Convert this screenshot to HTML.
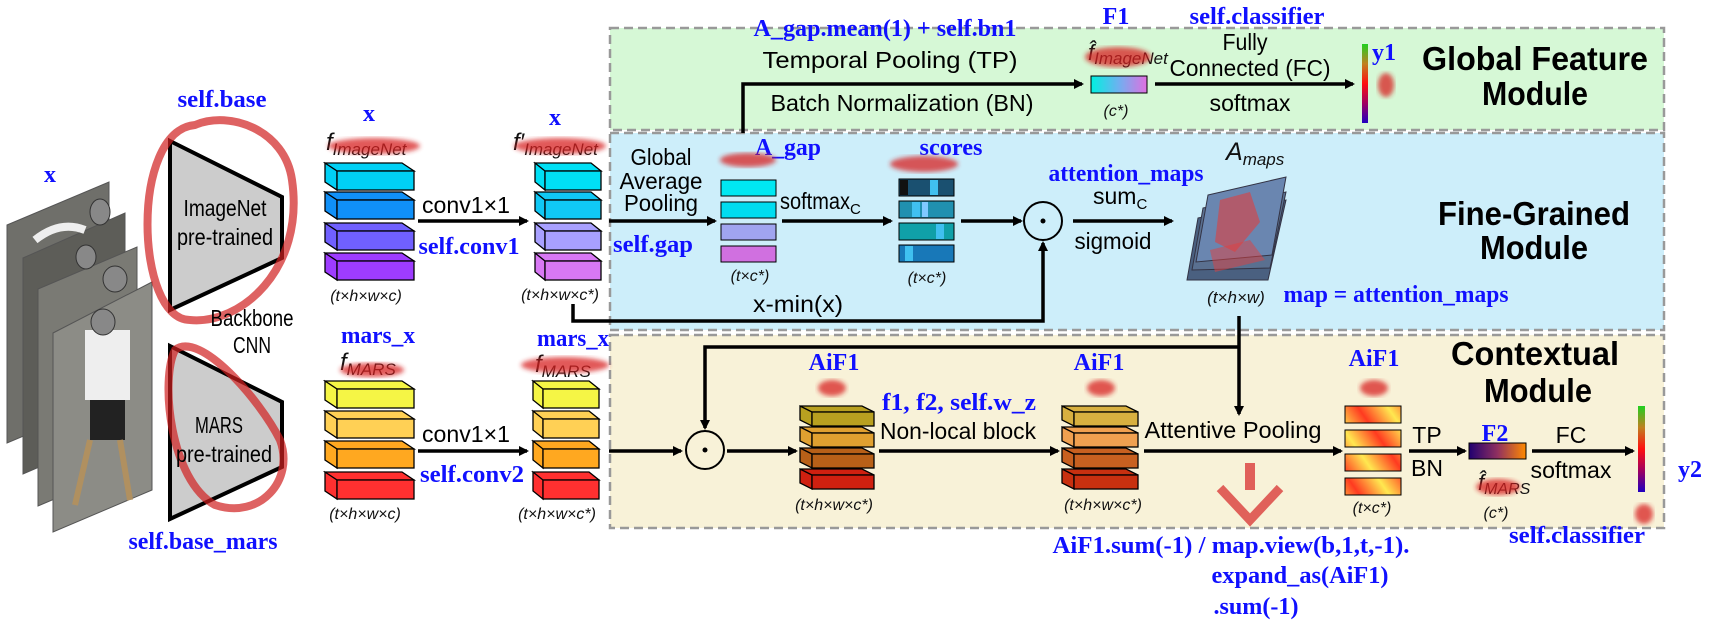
<!DOCTYPE html>
<html><head><meta charset="utf-8"><style>
html,body{margin:0;padding:0;background:#fff;}
svg{display:block;}
.b{font-family:"Liberation Serif",serif;font-weight:bold;fill:#1010ff;font-size:24px;}
.s{font-family:"Liberation Sans",sans-serif;fill:#000;font-size:23px;}
.i{font-family:"Liberation Sans",sans-serif;font-style:italic;fill:#111;}
.t{font-family:"Liberation Sans",sans-serif;font-weight:bold;fill:#000;font-size:33px;}
.blob{fill:#d82020;opacity:.75;filter:url(#bl);}
.k{stroke:#000;stroke-width:1.3;}
</style></head><body>
<svg width="1717" height="631" viewBox="0 0 1717 631" xmlns="http://www.w3.org/2000/svg">
<defs>
<filter id="bl"><feGaussianBlur stdDeviation="2.5"/></filter>
<marker id="ah" markerWidth="10" markerHeight="10" refX="8" refY="5" orient="auto" markerUnits="userSpaceOnUse" viewBox="0 0 10 10"><path d="M0,0L10,5L0,10Z" fill="#000"/></marker>
<linearGradient id="g1" x1="0" x2="1"><stop offset="0" stop-color="#00f0e0"/><stop offset=".5" stop-color="#70b0f0"/><stop offset="1" stop-color="#e070e0"/></linearGradient>
<linearGradient id="g2" x1="0" x2="1"><stop offset="0" stop-color="#200070"/><stop offset=".5" stop-color="#903060"/><stop offset="1" stop-color="#ff8a00"/></linearGradient>
<linearGradient id="cb" x1="0" y1="0" x2="0" y2="1"><stop offset="0" stop-color="#20d020"/><stop offset=".25" stop-color="#c08020"/><stop offset=".5" stop-color="#ff1010"/><stop offset=".75" stop-color="#a00060"/><stop offset="1" stop-color="#2000c0"/></linearGradient>
<linearGradient id="str" x1="0" y1="0" x2="20" y2="-14" gradientUnits="userSpaceOnUse" spreadMethod="reflect"><stop offset="0" stop-color="#ff3a20"/><stop offset="1" stop-color="#ffe850"/></linearGradient>
</defs>

<rect x="610" y="28" width="1054" height="102" fill="#d6f8d6" stroke="#999" stroke-width="2.5" stroke-dasharray="9,5"/>
<rect x="610" y="133" width="1054" height="197" fill="#cdeefa" stroke="#999" stroke-width="2.5" stroke-dasharray="9,5"/>
<rect x="610" y="335" width="1054" height="193" fill="#f8f2d8" stroke="#999" stroke-width="2.5" stroke-dasharray="9,5"/>

<g stroke="#555" stroke-width="1">
<polygon points="7,225 109,182 109,400 7,443" fill="#6f6f6a"/>
<polygon points="23,258 125,213 125,430 23,474" fill="#5d5d58"/>
<polygon points="38,289 137,247 137,464 38,506" fill="#7a7a74"/>
<polygon points="53,333 152,282 152,490 53,532" fill="#8c8c86"/>
</g>
<rect x="85" y="330" width="45" height="70" fill="#eee"/>
<rect x="90" y="400" width="35" height="40" fill="#222"/>
<path d="M90,440 L75,505 M120,440 L130,500" stroke="#b09060" stroke-width="6"/>
<ellipse cx="103" cy="322" rx="12" ry="13" fill="#888" stroke="#333"/>
<ellipse cx="115" cy="279" rx="12" ry="13" fill="#888" stroke="#333"/>
<ellipse cx="86" cy="257" rx="10" ry="12" fill="#888" stroke="#333"/>
<ellipse cx="100" cy="212" rx="10" ry="13" fill="#888" stroke="#333"/>
<path d="M35,240 q25,-20 50,-10" stroke="#eee" stroke-width="8" fill="none"/>

<polygon points="170,141 282,197 282,258 170,310" fill="#ccc" stroke="#000" stroke-width="4"/>
<polygon points="170,346 282,402 282,467 170,519" fill="#ccc" stroke="#000" stroke-width="4"/>
<path d="M195,125 C130,130 135,320 190,320 C240,325 305,270 292,180 C285,130 230,110 195,125Z" fill="none" stroke="#d02020" stroke-width="8" opacity=".7"/>
<path d="M175,350 C160,380 170,480 215,505 C260,520 295,480 280,440 C260,400 200,330 175,350Z" fill="none" stroke="#d02020" stroke-width="8" opacity=".7"/>
<text class="s" x="225" y="216" text-anchor="middle" textLength="83" lengthAdjust="spacingAndGlyphs">ImageNet</text>
<text class="s" x="225" y="245" text-anchor="middle" textLength="96" lengthAdjust="spacingAndGlyphs">pre-trained</text>
<text class="s" x="252" y="326" text-anchor="middle" textLength="83" lengthAdjust="spacingAndGlyphs">Backbone</text>
<text class="s" x="252" y="353" text-anchor="middle" textLength="38" lengthAdjust="spacingAndGlyphs">CNN</text>
<text class="s" x="219" y="433" text-anchor="middle" textLength="48" lengthAdjust="spacingAndGlyphs">MARS</text>
<text class="s" x="224" y="462" text-anchor="middle" textLength="96" lengthAdjust="spacingAndGlyphs">pre-trained</text>

<text class="b" x="50" y="182" font-family="Liberation Sans" text-anchor="middle">x</text>
<text class="b" x="222" y="107" text-anchor="middle" textLength="89" lengthAdjust="spacingAndGlyphs">self.base</text>
<text class="b" x="203" y="549" text-anchor="middle" textLength="149" lengthAdjust="spacingAndGlyphs">self.base_mars</text>

<g class="k">
<g transform="translate(325,163)" fill="#00d0f5"><path d="M0,0H77L89,8H12Z M0,0L12,8V27L0,19Z"/><rect x="12" y="8" width="77" height="19"/></g>
<g transform="translate(325,192)" fill="#1090f8"><path d="M0,0H77L89,8H12Z M0,0L12,8V27L0,19Z"/><rect x="12" y="8" width="77" height="19"/></g>
<g transform="translate(325,223)" fill="#7060ff"><path d="M0,0H77L89,8H12Z M0,0L12,8V27L0,19Z"/><rect x="12" y="8" width="77" height="19"/></g>
<g transform="translate(325,253)" fill="#9e3cff"><path d="M0,0H77L89,8H12Z M0,0L12,8V27L0,19Z"/><rect x="12" y="8" width="77" height="19"/></g>
<g transform="translate(535,163)" fill="#00e0f5"><path d="M0,0H56L66,8H10Z M0,0L10,8V27L0,19Z"/><rect x="10" y="8" width="56" height="19"/></g>
<g transform="translate(535,192)" fill="#10c8f5"><path d="M0,0H56L66,8H10Z M0,0L10,8V27L0,19Z"/><rect x="10" y="8" width="56" height="19"/></g>
<g transform="translate(535,223)" fill="#a8a0ff"><path d="M0,0H56L66,8H10Z M0,0L10,8V27L0,19Z"/><rect x="10" y="8" width="56" height="19"/></g>
<g transform="translate(535,253)" fill="#d878f4"><path d="M0,0H56L66,8H10Z M0,0L10,8V27L0,19Z"/><rect x="10" y="8" width="56" height="19"/></g>
<g transform="translate(325,381)" fill="#f5f545"><path d="M0,0H77L89,8H12Z M0,0L12,8V27L0,19Z"/><rect x="12" y="8" width="77" height="19"/></g>
<g transform="translate(325,411)" fill="#ffd055"><path d="M0,0H77L89,8H12Z M0,0L12,8V27L0,19Z"/><rect x="12" y="8" width="77" height="19"/></g>
<g transform="translate(325,441)" fill="#ffa820"><path d="M0,0H77L89,8H12Z M0,0L12,8V27L0,19Z"/><rect x="12" y="8" width="77" height="19"/></g>
<g transform="translate(325,472)" fill="#ff3030"><path d="M0,0H77L89,8H12Z M0,0L12,8V27L0,19Z"/><rect x="12" y="8" width="77" height="19"/></g>
<g transform="translate(533,381)" fill="#f5f545"><path d="M0,0H56L66,8H10Z M0,0L10,8V27L0,19Z"/><rect x="10" y="8" width="56" height="19"/></g>
<g transform="translate(533,411)" fill="#ffd055"><path d="M0,0H56L66,8H10Z M0,0L10,8V27L0,19Z"/><rect x="10" y="8" width="56" height="19"/></g>
<g transform="translate(533,441)" fill="#ffa820"><path d="M0,0H56L66,8H10Z M0,0L10,8V27L0,19Z"/><rect x="10" y="8" width="56" height="19"/></g>
<g transform="translate(533,472)" fill="#ff3030"><path d="M0,0H56L66,8H10Z M0,0L10,8V27L0,19Z"/><rect x="10" y="8" width="56" height="19"/></g>
<g transform="translate(800,406)" fill="#b8a020"><path d="M0,0H62L74,6H12Z M0,0L12,6V20L0,14Z"/><rect x="12" y="6" width="62" height="14"/></g>
<g transform="translate(800,427)" fill="#e0a030"><path d="M0,0H62L74,6H12Z M0,0L12,6V20L0,14Z"/><rect x="12" y="6" width="62" height="14"/></g>
<g transform="translate(800,448)" fill="#b86018"><path d="M0,0H62L74,6H12Z M0,0L12,6V20L0,14Z"/><rect x="12" y="6" width="62" height="14"/></g>
<g transform="translate(800,469)" fill="#d02010"><path d="M0,0H62L74,6H12Z M0,0L12,6V20L0,14Z"/><rect x="12" y="6" width="62" height="14"/></g>
<g transform="translate(1062,406)" fill="#d8b040"><path d="M0,0H64L76,6H12Z M0,0L12,6V20L0,14Z"/><rect x="12" y="6" width="64" height="14"/></g>
<g transform="translate(1062,427)" fill="#f0a050"><path d="M0,0H64L76,6H12Z M0,0L12,6V20L0,14Z"/><rect x="12" y="6" width="64" height="14"/></g>
<g transform="translate(1062,448)" fill="#c86020"><path d="M0,0H64L76,6H12Z M0,0L12,6V20L0,14Z"/><rect x="12" y="6" width="64" height="14"/></g>
<g transform="translate(1062,469)" fill="#c83010"><path d="M0,0H64L76,6H12Z M0,0L12,6V20L0,14Z"/><rect x="12" y="6" width="64" height="14"/></g>
</g>

<text class="b" x="369" y="121" font-family="Liberation Sans" text-anchor="middle">x</text>
<text class="b" x="555" y="125" font-family="Liberation Sans" text-anchor="middle">x</text>
<text class="i" x="326" y="150" font-size="24">f<tspan font-size="17" dy="5">ImageNet</tspan></text>
<text class="i" x="513" y="150" font-size="24">f′<tspan font-size="17" dy="5">ImageNet</tspan></text>
<ellipse class="blob" cx="374" cy="146" rx="46" ry="8"/>
<ellipse class="blob" cx="560" cy="146" rx="46" ry="8"/>
<text class="b" x="378" y="343" text-anchor="middle" textLength="74" lengthAdjust="spacingAndGlyphs">mars_x</text>
<text class="b" x="573" y="346" text-anchor="middle" textLength="72" lengthAdjust="spacingAndGlyphs">mars_x</text>
<text class="i" x="340" y="370" font-size="24">f<tspan font-size="17" dy="5">MARS</tspan></text>
<text class="i" x="535" y="372" font-size="24">f<tspan font-size="17" dy="5">MARS</tspan></text>
<ellipse class="blob" cx="372" cy="370" rx="32" ry="7"/>
<ellipse class="blob" cx="565" cy="365" rx="44" ry="8"/>
<text class="i" x="366" y="301" text-anchor="middle">(t×h×w×c)</text>
<text class="i" x="560" y="300" text-anchor="middle">(t×h×w×c*)</text>
<text class="i" x="365" y="519" text-anchor="middle">(t×h×w×c)</text>
<text class="i" x="557" y="519" text-anchor="middle">(t×h×w×c*)</text>

<g stroke="#000" stroke-width="3.5" fill="none">
<line x1="418" y1="221" x2="527" y2="221" marker-end="url(#ah)"/>
<line x1="418" y1="451" x2="527" y2="451" marker-end="url(#ah)"/>
<line x1="609" y1="221" x2="715" y2="221" marker-end="url(#ah)"/>
<line x1="782" y1="221" x2="891" y2="221" marker-end="url(#ah)"/>
<line x1="961" y1="221" x2="1021" y2="221" marker-end="url(#ah)"/>
<line x1="1073" y1="221" x2="1172" y2="221" marker-end="url(#ah)"/>
<polyline points="573,304 573,321 1043,321 1043,243" marker-end="url(#ah)"/>
<polyline points="743,133 743,84 1082,84" marker-end="url(#ah)"/>
<line x1="1155" y1="84" x2="1353" y2="84" marker-end="url(#ah)"/>
<line x1="1239" y1="316" x2="1239" y2="414" marker-end="url(#ah)"/>
<polyline points="1239,347 705,347 705,428" marker-end="url(#ah)"/>
<line x1="609" y1="451" x2="681" y2="451" marker-end="url(#ah)"/>
<line x1="727" y1="451" x2="796" y2="451" marker-end="url(#ah)"/>
<line x1="879" y1="451" x2="1058" y2="451" marker-end="url(#ah)"/>
<line x1="1144" y1="451" x2="1341" y2="451" marker-end="url(#ah)"/>
<line x1="1409" y1="451" x2="1465" y2="451" marker-end="url(#ah)"/>
<line x1="1532" y1="451" x2="1633" y2="451" marker-end="url(#ah)"/>
</g>
<circle cx="1043" cy="221" r="19" fill="none" stroke="#000" stroke-width="2"/><circle cx="1043" cy="221" r="2.5"/>
<circle cx="705" cy="450" r="19" fill="none" stroke="#000" stroke-width="2"/><circle cx="705" cy="450" r="2.5"/>

<text class="s" x="466" y="213" text-anchor="middle" textLength="88" lengthAdjust="spacingAndGlyphs">conv1×1</text>
<text class="s" x="466" y="442" text-anchor="middle" textLength="88" lengthAdjust="spacingAndGlyphs">conv1×1</text>
<text class="b" x="469" y="254" text-anchor="middle" textLength="101" lengthAdjust="spacingAndGlyphs">self.conv1</text>
<text class="b" x="472" y="482" text-anchor="middle" textLength="104" lengthAdjust="spacingAndGlyphs">self.conv2</text>

<text class="b" x="885" y="36" text-anchor="middle" textLength="263" lengthAdjust="spacingAndGlyphs">A_gap.mean(1) + self.bn1</text>
<text class="s" x="890" y="68" text-anchor="middle" textLength="255" lengthAdjust="spacingAndGlyphs">Temporal Pooling (TP)</text>
<text class="s" x="902" y="111" text-anchor="middle" textLength="263" lengthAdjust="spacingAndGlyphs">Batch Normalization (BN)</text>
<text class="b" x="1116" y="24" text-anchor="middle">F1</text>
<text class="i" x="1088" y="60" font-size="22">f̂<tspan font-size="17" dy="4">ImageNet</tspan></text>
<ellipse class="blob" cx="1118" cy="57" rx="33" ry="10"/>
<rect x="1091" y="76" width="56" height="17" fill="url(#g1)" stroke="#000"/>
<text class="i" x="1116" y="116" text-anchor="middle">(c*)</text>
<text class="b" x="1257" y="24" text-anchor="middle" textLength="135" lengthAdjust="spacingAndGlyphs">self.classifier</text>
<text class="s" x="1245" y="50" text-anchor="middle" textLength="45" lengthAdjust="spacingAndGlyphs">Fully</text>
<text class="s" x="1250" y="76" text-anchor="middle" textLength="161" lengthAdjust="spacingAndGlyphs">Connected (FC)</text>
<text class="s" x="1250" y="111" text-anchor="middle" textLength="81" lengthAdjust="spacingAndGlyphs">softmax</text>
<rect x="1362" y="44" width="6" height="79" fill="url(#cb)"/>
<text class="b" x="1384" y="60" text-anchor="middle">y1</text>
<ellipse class="blob" cx="1386" cy="85" rx="8" ry="12"/>
<text class="t" x="1535" y="70" text-anchor="middle" textLength="226" lengthAdjust="spacingAndGlyphs">Global Feature</text>
<text class="t" x="1535" y="105" text-anchor="middle" textLength="106" lengthAdjust="spacingAndGlyphs">Module</text>

<text class="s" x="661" y="165" text-anchor="middle" textLength="61" lengthAdjust="spacingAndGlyphs">Global</text>
<text class="s" x="661" y="189" text-anchor="middle" textLength="83" lengthAdjust="spacingAndGlyphs">Average</text>
<text class="s" x="661" y="211" text-anchor="middle" textLength="74" lengthAdjust="spacingAndGlyphs">Pooling</text>
<text class="b" x="653" y="252" text-anchor="middle" textLength="80" lengthAdjust="spacingAndGlyphs">self.gap</text>
<text class="b" x="788" y="155" text-anchor="middle" textLength="66" lengthAdjust="spacingAndGlyphs">A_gap</text>
<ellipse class="blob" cx="748" cy="160" rx="28" ry="7"/>
<rect x="721" y="180" width="55" height="16" fill="#00e8f2" stroke="#000"/>
<rect x="721" y="202" width="55" height="16" fill="#00dcf0" stroke="#000"/>
<rect x="721" y="224" width="55" height="16" fill="#a0a4f0" stroke="#000"/>
<rect x="721" y="246" width="55" height="16" fill="#d070e0" stroke="#000"/>
<text class="i" x="750" y="281" text-anchor="middle">(t×c*)</text>
<text class="s" x="780" y="209"><tspan textLength="70" lengthAdjust="spacingAndGlyphs">softmax</tspan><tspan font-size="15" dy="5">C</tspan></text>
<text class="s" x="798" y="312" text-anchor="middle" textLength="90" lengthAdjust="spacingAndGlyphs">x-min(x)</text>
<text class="b" x="951" y="155" text-anchor="middle" textLength="63" lengthAdjust="spacingAndGlyphs">scores</text>
<ellipse class="blob" cx="924" cy="164" rx="34" ry="8"/>
<g stroke="#000" stroke-width="1">
<rect x="899" y="179" width="55" height="17" fill="#1a5070"/><rect x="899" y="201" width="55" height="17" fill="#2090b0"/><rect x="899" y="223" width="55" height="17" fill="#10a0a8"/><rect x="899" y="245" width="55" height="17" fill="#1878b8"/>
</g>
<g fill="#40c0f0"><rect x="930" y="180" width="8" height="15"/><rect x="912" y="202" width="8" height="15"/><rect x="936" y="224" width="8" height="15"/><rect x="905" y="246" width="8" height="15"/><rect x="922" y="202" width="6" height="15" fill="#80c8ff"/><rect x="900" y="180" width="8" height="15" fill="#111"/></g>
<text class="i" x="927" y="283" text-anchor="middle">(t×c*)</text>
<text class="b" x="1126" y="181" text-anchor="middle" textLength="155" lengthAdjust="spacingAndGlyphs">attention_maps</text>
<text class="s" x="1093" y="204">sum<tspan font-size="15" dy="5">C</tspan></text>
<text class="s" x="1113" y="249" text-anchor="middle" textLength="77" lengthAdjust="spacingAndGlyphs">sigmoid</text>
<text class="i" x="1226" y="160" font-size="25">A<tspan font-size="17" dy="5">maps</tspan></text>
<g stroke="#334" stroke-width="1">
<polygon points="1198,218 1286,200 1268,280 1187,280" fill="#4a6080"/>
<polygon points="1203,208 1286,192 1270,268 1192,270" fill="#5a7090"/>
<polygon points="1208,195 1286,177 1272,255 1196,262" fill="#6a86b0"/>
</g>
<path d="M1220,200 l30,-8 l10,30 l-25,30 l-20,-10Z" fill="#e04040" opacity=".6"/>
<path d="M1210,250 l40,-10 l15,20 l-50,12Z" fill="#e04040" opacity=".5"/>
<text class="i" x="1236" y="303" font-size="17" text-anchor="middle">(t×h×w)</text>
<text class="b" x="1396" y="302" text-anchor="middle" textLength="225" lengthAdjust="spacingAndGlyphs">map = attention_maps</text>
<text class="t" x="1534" y="225" text-anchor="middle" textLength="192" lengthAdjust="spacingAndGlyphs">Fine-Grained</text>
<text class="t" x="1534" y="259" text-anchor="middle" textLength="108" lengthAdjust="spacingAndGlyphs">Module</text>

<text class="b" x="834" y="370" text-anchor="middle">AiF1</text>
<ellipse class="blob" cx="832" cy="388" rx="14" ry="8"/>
<text class="i" x="834" y="510" text-anchor="middle">(t×h×w×c*)</text>
<text class="b" x="959" y="410" text-anchor="middle" textLength="154" lengthAdjust="spacingAndGlyphs">f1, f2, self.w_z</text>
<text class="s" x="958" y="439" text-anchor="middle" textLength="156" lengthAdjust="spacingAndGlyphs">Non-local block</text>
<text class="b" x="1099" y="370" text-anchor="middle">AiF1</text>
<ellipse class="blob" cx="1101" cy="388" rx="14" ry="8"/>
<text class="i" x="1103" y="510" text-anchor="middle">(t×h×w×c*)</text>
<text class="s" x="1233" y="438" text-anchor="middle" textLength="177" lengthAdjust="spacingAndGlyphs">Attentive Pooling</text>
<path d="M1250,463 V490" stroke="#d83030" stroke-width="10" opacity=".75"/>
<path d="M1220,488 L1250,520 L1280,488" stroke="#d83030" stroke-width="9" fill="none" opacity=".75"/>
<text class="b" x="1374" y="366" text-anchor="middle">AiF1</text>
<ellipse class="blob" cx="1374" cy="388" rx="14" ry="8"/>
<g stroke="#000" stroke-width="1">
<rect x="1345" y="406" width="56" height="17" fill="url(#str)"/>
<rect x="1345" y="430" width="56" height="17" fill="url(#str)"/>
<rect x="1345" y="454" width="56" height="17" fill="url(#str)"/>
<rect x="1345" y="478" width="56" height="17" fill="url(#str)"/>
</g>
<text class="i" x="1372" y="513" text-anchor="middle">(t×c*)</text>
<text class="s" x="1427" y="443" text-anchor="middle">TP</text>
<text class="s" x="1427" y="476" text-anchor="middle">BN</text>
<text class="b" x="1495" y="441" text-anchor="middle">F2</text>
<rect x="1469" y="443" width="57" height="16" fill="url(#g2)" stroke="#000"/>
<text class="i" x="1478" y="490" font-size="22">f̂<tspan font-size="16" dy="4">MARS</tspan></text>
<ellipse class="blob" cx="1498" cy="487" rx="22" ry="8"/>
<text class="i" x="1496" y="518" text-anchor="middle">(c*)</text>
<text class="s" x="1571" y="443" text-anchor="middle">FC</text>
<text class="s" x="1571" y="478" text-anchor="middle" textLength="81" lengthAdjust="spacingAndGlyphs">softmax</text>
<rect x="1638" y="406" width="7" height="86" fill="url(#cb)"/>
<text class="b" x="1690" y="477" text-anchor="middle">y2</text>
<ellipse class="blob" cx="1644" cy="514" rx="9" ry="10"/>
<text class="b" x="1577" y="543" text-anchor="middle" textLength="136" lengthAdjust="spacingAndGlyphs">self.classifier</text>
<text class="t" x="1535" y="365" text-anchor="middle" textLength="168" lengthAdjust="spacingAndGlyphs">Contextual</text>
<text class="t" x="1538" y="402" text-anchor="middle" textLength="108" lengthAdjust="spacingAndGlyphs">Module</text>

<text class="b" x="1231" y="553" text-anchor="middle" textLength="357" lengthAdjust="spacingAndGlyphs">AiF1.sum(-1) / map.view(b,1,t,-1).</text>
<text class="b" x="1300" y="583" text-anchor="middle" textLength="177" lengthAdjust="spacingAndGlyphs">expand_as(AiF1)</text>
<text class="b" x="1256" y="614" text-anchor="middle" textLength="85" lengthAdjust="spacingAndGlyphs">.sum(-1)</text>
</svg>
</body></html>
